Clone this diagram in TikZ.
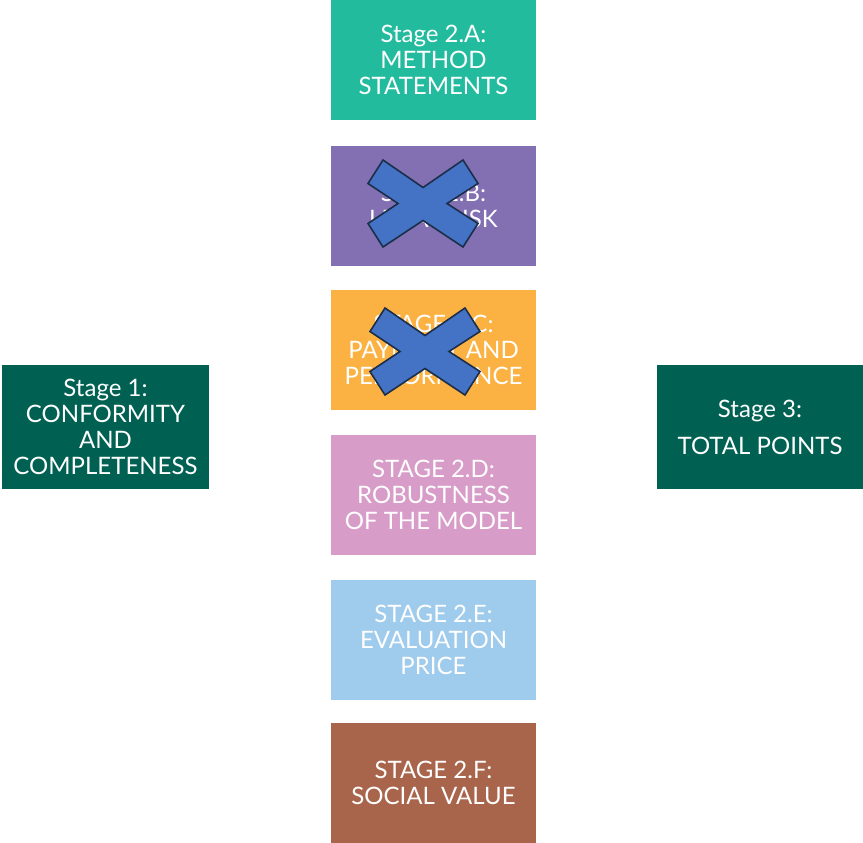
\documentclass[tikz,border=0pt]{standalone}
\usepackage{fontspec}
\setmainfont{Lato}
\definecolor{cA}{HTML}{22BB9E}
\definecolor{cB}{HTML}{8270B2}
\definecolor{cC}{HTML}{FBB242}
\definecolor{cD}{HTML}{D89CC8}
\definecolor{cE}{HTML}{9FCBEC}
\definecolor{cF}{HTML}{A8654C}
\definecolor{cG}{HTML}{006153}
\definecolor{xfill}{HTML}{4472C4}
\definecolor{xline}{HTML}{1B2E4A}
\tikzset{
  stagebox/.style={minimum width=205pt, minimum height=120pt, inner sep=0pt, text=white, align=center, font=\fontsize{24}{26}\selectfont},
  sidebox/.style={stagebox, minimum width=207pt, minimum height=124pt},
  crossmark/.style={fill=xfill, draw=xline, line width=1.6pt, line join=miter}
}
\newcommand{\crossat}[1]{%
  \filldraw[crossmark, shift={(#1)}] (-40,-43.5) -- (0,-16) -- (40,-43.5) -- (55,-20) -- (24,0) -- (55,20) -- (40,43.5) -- (0,17) -- (-40,43.5) -- (-55,20) -- (-25,0) -- (-55,-20) -- cycle;}
\begin{document}
\begin{tikzpicture}[x=1pt,y=-1pt]
\useasboundingbox (0,0) rectangle (863,843);
\node[stagebox, fill=cA] (a) at (433.5,60) {Stage 2.A:\\METHOD\\STATEMENTS};
\node[stagebox, fill=cB] (b) at (433.5,205.5) {Stage 2.B:\\LEGAL RISK};
\node[stagebox, fill=cC] (c) at (433.5,350) {STAGE 2.C:\\PAYMENT AND\\PERFORMANCE};
\node[stagebox, fill=cD] (d) at (433.5,494.5) {STAGE 2.D:\\ROBUSTNESS\\OF THE MODEL};
\node[stagebox, fill=cE] (e) at (433.5,639.5) {STAGE 2.E:\\EVALUATION\\PRICE};
\node[stagebox, fill=cF] (f) at (433.5,783) {STAGE 2.F:\\SOCIAL VALUE};
\node[sidebox, fill=cG] (s1) at (105.5,427) {Stage 1:\\CONFORMITY\\AND\\COMPLETENESS};
\node[sidebox, fill=cG] (s3) at (760,427) {Stage 3:\\[11pt]TOTAL POINTS};
\coordinate (xb) at (423,203.5);
\coordinate (xc) at (425,351.5);
\crossat{xb}
\crossat{xc}
\end{tikzpicture}
\end{document}
